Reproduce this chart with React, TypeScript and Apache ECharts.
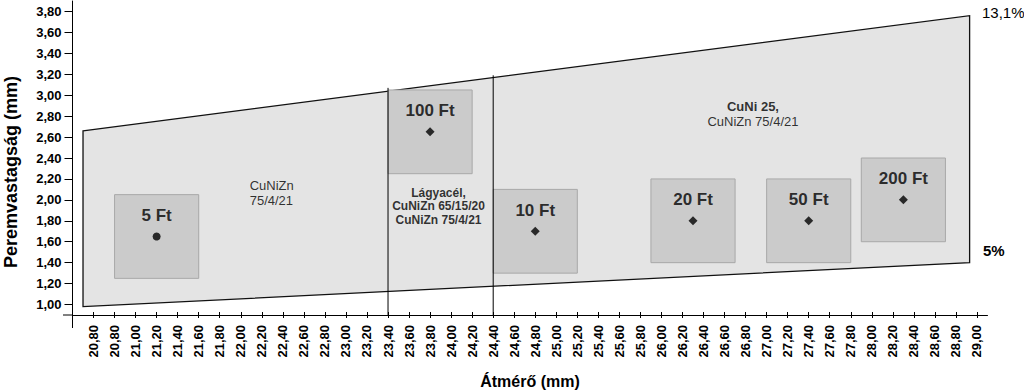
import React, { useEffect, useRef } from 'react';
import * as echarts from 'echarts';

// ---- data ----
const xTickValues = [
  20.6, 20.8, 21.0, 21.2, 21.4, 21.6, 21.8, 22.0, 22.2, 22.4, 22.6, 22.8, 23.0, 23.2, 23.4,
  23.6, 23.8, 24.0, 24.2, 24.4, 24.6, 24.8, 25.0, 25.2, 25.4, 25.6, 25.8, 26.0, 26.2, 26.4,
  26.6, 26.8, 27.0, 27.2, 27.4, 27.6, 27.8, 28.0, 28.2, 28.4, 28.6, 28.8, 29.0,
];
const xTickLabels = [
  '20,80', '20,80', '21,00', '21,20', '21,40', '21,60', '21,80', '22,00', '22,20', '22,40',
  '22,60', '22,80', '23,00', '23,20', '23,40', '23,60', '23,80', '24,00', '24,20', '24,40',
  '24,60', '24,80', '25,00', '25,20', '25,40', '25,60', '25,80', '26,00', '26,20', '26,40',
  '26,60', '26,80', '27,00', '27,20', '27,40', '27,60', '27,80', '28,00', '28,20', '28,40',
  '28,60', '28,80', '29,00',
];
const yTickValues = [1.0, 1.2, 1.4, 1.6, 1.8, 2.0, 2.2, 2.4, 2.6, 2.8, 3.0, 3.2, 3.4, 3.6, 3.8];
const yTickLabels = [
  '1,00', '1,20', '1,40', '1,60', '1,80', '2,00', '2,20', '2,40', '2,60', '2,80', '3,00',
  '3,20', '3,40', '3,60', '3,80',
];

// envelope (13.1% upper line, 5% lower line)
const envelopeX = [20.5, 28.93];
const envelopeUpper = [2.66, 3.76];
const envelopeLower = [0.98, 1.4];

// material divider lines
const dividerX = [23.4, 24.4];
const dividerTop = [3.07, 3.19];

// coins
const coinNames = ['5 Ft', '100 Ft', '10 Ft', '20 Ft', '50 Ft', '200 Ft'];
const coinDiameter = [21.2, 23.8, 24.8, 26.3, 27.4, 28.3];
const coinThickness = [1.65, 2.65, 1.7, 1.8, 1.8, 2.0];
const coinSymbols = ['circle', 'diamond', 'diamond', 'diamond', 'diamond', 'diamond'];
const coinTolerance = 0.4;

// material notes
const noteTexts = ['CuNiZn\n75/4/21', 'Lágyacél,\nCuNiZn 65/15/20\nCuNiZn 75/4/21', '{b|CuNi 25,}\nCuNiZn 75/4/21'];
const noteX = [22.08, 23.88, 26.87];
const noteY = [2.066, 1.94, 2.818];

const X_MIN = 20.4;
const X_MAX = 29.1;
const Y_MIN = 0.9;
const Y_MAX = 3.9;

const FONT = "'Liberation Sans', Arial, sans-serif";

function near(list: number[], v: number) {
  return list.findIndex((t) => Math.abs(t - v) < 1e-6);
}

export default function App() {
  const ref = useRef<HTMLDivElement>(null);

  useEffect(() => {
    const chart = echarts.init(ref.current!, null, { renderer: 'svg' });

    const gridLeft = 72.5;
    const gridTop = 1;
    const gridW = 915;
    const gridH = 314;

    const xBase = {
      type: 'value',
      min: X_MIN,
      max: X_MAX,
      splitLine: { show: false },
    };

    const option: any = {
      animation: false,
      backgroundColor: '#ffffff',
      textStyle: { fontFamily: FONT },
      grid: {
        left: gridLeft,
        top: gridTop,
        width: gridW,
        height: gridH,
        containLabel: false,
        outerBoundsMode: 'none',
      },
      xAxis: [
        {
          ...xBase,
          position: 'bottom',
          name: 'Átmérő (mm)',
          nameLocation: 'middle',
          nameGap: 58,
          nameTextStyle: { fontSize: 16, fontWeight: 'bold', color: '#000', fontFamily: FONT },
          axisLine: { show: true, onZero: false, lineStyle: { color: '#000', width: 1 } },
          axisTick: {
            show: true,
            customValues: xTickValues,
            length: 3,
            lineStyle: { color: '#000', width: 1 },
          },
          axisLabel: {
            show: true,
            customValues: xTickValues,
            rotate: 90,
            margin: 10,
            fontSize: 13,
            fontWeight: 'bold',
            color: '#000',
            fontFamily: FONT,
            formatter: (v: number) => {
              const i = near(xTickValues, v);
              return i >= 0 ? xTickLabels[i] : '';
            },
          },
        },
        {
          ...xBase,
          position: 'bottom',
          axisLine: { show: false, onZero: false },
          axisTick: {
            show: true,
            inside: true,
            customValues: xTickValues,
            length: 3,
            lineStyle: { color: '#000', width: 1 },
          },
          axisLabel: { show: false },
        },
      ],
      yAxis: {
        type: 'value',
        min: Y_MIN,
        max: Y_MAX,
        splitLine: { show: false },
        axisLine: { show: true, onZero: false, lineStyle: { color: '#000', width: 1 } },
        axisTick: {
          show: true,
          customValues: yTickValues,
          length: 8,
          lineStyle: { color: '#000', width: 1 },
        },
        axisLabel: {
          show: true,
          customValues: yTickValues,
          margin: 11,
          fontSize: 13,
          fontWeight: 'bold',
          color: '#000',
          fontFamily: FONT,
          formatter: (v: number) => {
            const i = near(yTickValues, v);
            return i >= 0 ? yTickLabels[i] : '';
          },
        },
      },
      series: [
        {
          type: 'custom',
          name: 'envelope',
          z: 1,
          silent: true,
          data: envelopeX.map((x, i) => [x, envelopeUpper[i], envelopeLower[i]]),
          renderItem: (params: any, api: any) => {
            if (params.dataIndex !== 0) return null;
            const pts: number[][] = [];
            envelopeX.forEach((x, i) => pts.push(api.coord([x, envelopeUpper[i]])));
            for (let i = envelopeX.length - 1; i >= 0; i--) pts.push(api.coord([envelopeX[i], envelopeLower[i]]));
            return {
              type: 'polygon',
              shape: { points: pts },
              style: { fill: '#e4e4e4', stroke: '#111', lineWidth: 1.3 },
            };
          },
        },
        {
          type: 'custom',
          name: 'boxes',
          z: 2,
          silent: true,
          data: coinDiameter.map((x, i) => [x, coinThickness[i]]),
          renderItem: (params: any, api: any) => {
            const x = api.value(0);
            const y = api.value(1);
            const p0 = api.coord([x - coinTolerance, y + coinTolerance]);
            const p1 = api.coord([x + coinTolerance, y - coinTolerance]);
            return {
              type: 'rect',
              shape: { x: p0[0], y: p0[1], width: p1[0] - p0[0], height: p1[1] - p0[1] },
              style: { fill: '#cbcbcb', stroke: '#a8a8a8', lineWidth: 1 },
            };
          },
        },
        {
          type: 'custom',
          name: 'dividers',
          z: 3,
          silent: true,
          data: dividerX.map((x, i) => [x, dividerTop[i]]),
          renderItem: (params: any, api: any) => {
            const x = api.value(0);
            const top = api.coord([x, api.value(1)]);
            const bottom = api.coord([x, Y_MIN]);
            return {
              type: 'line',
              shape: { x1: top[0], y1: top[1], x2: bottom[0], y2: bottom[1] },
              style: { stroke: '#000', lineWidth: 1 },
            };
          },
        },
        {
          type: 'scatter',
          name: 'coins',
          z: 4,
          silent: true,
          symbolSize: 9,
          itemStyle: { color: '#000' },
          data: coinNames.map((n, i) => ({
            name: n,
            value: [coinDiameter[i], coinThickness[i]],
            symbol: coinSymbols[i],
            symbolSize: coinSymbols[i] === 'circle' ? 8 : 9,
          })),
          label: {
            show: true,
            position: 'inside',
            offset: [0, -21],
            formatter: '{b}',
            fontSize: 17,
            fontWeight: 'bold',
            color: '#000',
            fontFamily: FONT,
          },
        },
        {
          type: 'scatter',
          name: 'notes',
          z: 5,
          silent: true,
          symbolSize: 1,
          itemStyle: { color: 'rgba(0,0,0,0)' },
          data: noteTexts.map((t, i) => ({
            value: [noteX[i], noteY[i]],
            label:
              i === 0
                ? { position: 'right', distance: 0, align: 'left', fontSize: 13, lineHeight: 15, fontWeight: 'normal' }
                : i === 1
                ? { position: 'inside', align: 'center', fontSize: 12, lineHeight: 13.5, fontWeight: 'bold' }
                : { position: 'inside', align: 'center', fontSize: 13, lineHeight: 15, fontWeight: 'normal' },
          })),
          label: {
            show: true,
            color: '#000',
            fontFamily: FONT,
            formatter: (p: any) => noteTexts[p.dataIndex],
            rich: {
              b: { fontSize: 13, fontWeight: 'bold', lineHeight: 15, color: '#000', fontFamily: FONT },
            },
          },
        },
      ],
      graphic: [
        // axis line extensions (crossing axes)
        { type: 'line', shape: { x1: 63, y1: 315, x2: 72.5, y2: 315 }, style: { stroke: '#000', lineWidth: 1 }, silent: true },
        { type: 'line', shape: { x1: 72.5, y1: 315, x2: 72.5, y2: 328 }, style: { stroke: '#000', lineWidth: 1 }, silent: true },
        {
          type: 'text',
          x: 11,
          y: 172,
          rotation: Math.PI / 2,
          style: {
            text: 'Peremvastagság (mm)',
            fontSize: 18,
            fontWeight: 'bold',
            fill: '#000',
            fontFamily: FONT,
            align: 'center',
            verticalAlign: 'middle',
          },
          silent: true,
        },
        {
          type: 'text',
          left: 982,
          top: 5,
          style: { text: '13,1%', fontSize: 15, fontWeight: 'normal', fill: '#000', fontFamily: FONT },
          silent: true,
        },
        {
          type: 'text',
          left: 983,
          top: 243,
          style: { text: '5%', fontSize: 15, fontWeight: 'bold', fill: '#000', fontFamily: FONT },
          silent: true,
        },
      ],
    };

    chart.setOption(option);
    return () => chart.dispose();
  }, []);

  return (
    <div
      ref={ref}
      style={{ position: 'fixed', left: 0, top: 0, width: 1024, height: 391, background: '#fff' }}
    />
  );
}
